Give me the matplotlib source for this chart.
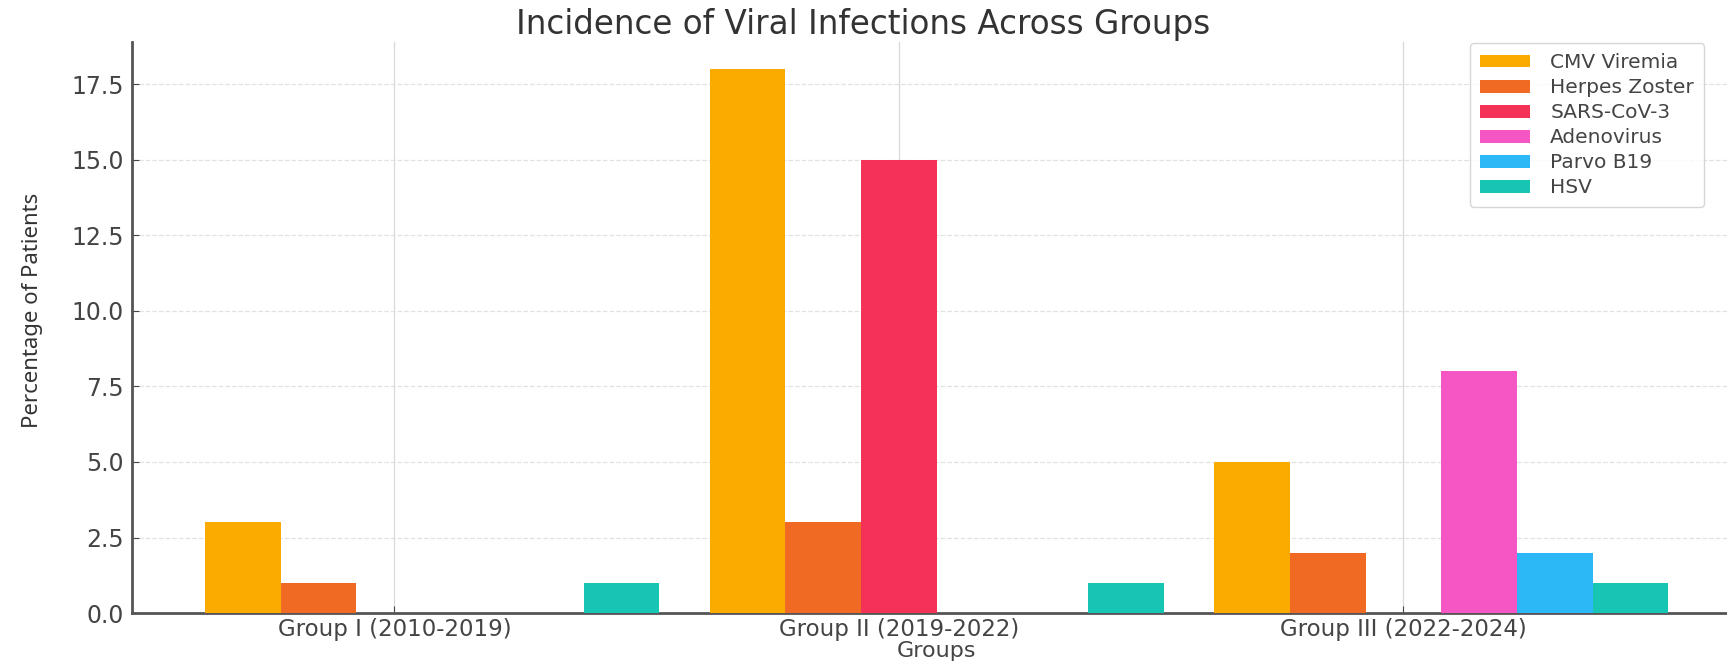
import numpy as np
import matplotlib
matplotlib.use('Agg')
import matplotlib.pyplot as plt

# data
groups = ['Group I (2010-2019)', 'Group II (2019-2022)', 'Group III (2022-2024)']
viruses = ['CMV Viremia', 'Herpes Zoster', 'SARS-CoV-3', 'Adenovirus', 'Parvo B19', 'HSV']
cmv = [3, 18, 5]
herpes = [1, 3, 2]
sars = [0, 15, 0]
adeno = [0, 0, 8]
parvo = [0, 0, 2]
hsv = [1, 1, 1]
colors = ['#FBAA00', '#F06A24', '#F43157', '#F656C4', '#2CB7F6', '#17C5B5']

series = [cmv, herpes, sars, adeno, parvo, hsv]

plt.rcParams['font.family'] = ['DejaVu Sans']
fig = plt.figure(figsize=(17.27, 6.63), dpi=100)
ax = fig.add_axes([0.0764, 0.0754, 0.932, 0.861])

x = np.arange(len(groups))
width = 0.15
for i, (vals, name, col) in enumerate(zip(series, viruses, colors)):
    ax.bar(x + (i - 2) * width, vals, width, label=name, color=col, zorder=3)

ax.set_xticks(x)
ax.set_xticklabels(groups)
ax.tick_params(direction='in', length=5, color='#444444', pad=6,
               labelsize=17, labelcolor='#444444')
ax.tick_params(axis='x', labelsize=16.5, pad=3.4)

ax.grid(axis='y', color='#e2e2e2', linestyle='--', linewidth=0.9, zorder=0)
ax.grid(axis='x', color='#d8d8d8', linestyle='-', linewidth=0.9, zorder=0)

for s in ['top', 'right']:
    ax.spines[s].set_visible(False)
for s in ['left', 'bottom']:
    ax.spines[s].set_color('#555555')
    ax.spines[s].set_linewidth(2)

ax.set_xlabel('Groups', fontsize=16, color='#444444')
ax.xaxis.set_label_coords(0.5, -0.077)
ax.xaxis.label.set_va('baseline')
ax.set_ylabel('Percentage of Patients', fontsize=16, color='#333333',
              family=['Noto Sans', 'DejaVu Sans'])
ax.yaxis.set_label_coords(-0.055, 0.53)

fig.suptitle('Incidence of Viral Infections Across Groups', fontsize=23.5,
             color='#333333', x=0.5, y=0.988, va='top')

ax.legend(loc='upper left', bbox_to_anchor=(0.851, 0.935), bbox_transform=fig.transFigure,
          borderaxespad=0, labelspacing=0.3, handlelength=2.5, borderpad=0.5,
          handleheight=0.6, handletextpad=1.0, frameon=True, edgecolor='#cccccc',
          labelcolor='#444444', prop={'family': 'DejaVu Sans', 'size': 14.5})

fig.savefig('out.png', dpi=100)
